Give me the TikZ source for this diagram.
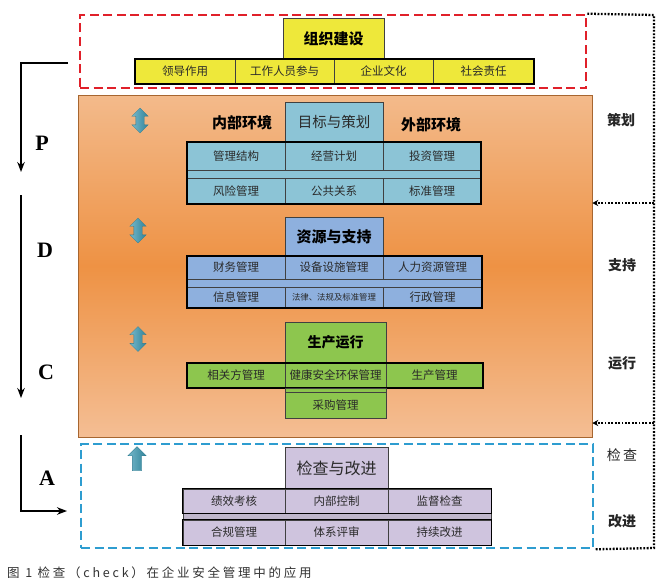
\documentclass[tikz,border=0pt]{standalone}
\usepackage{fontspec}
\setmainfont{Noto Sans CJK SC}
\newfontfamily\cjk{Noto Sans CJK SC}
\newfontfamily\lat{Liberation Serif}
\newfontfamily\capfont[LetterSpace=22]{Noto Sans CJK SC}
\usetikzlibrary{shapes.arrows,arrows.meta}
\definecolor{yel}{HTML}{EEE83A}
\definecolor{cya}{HTML}{8CC4D6}
\definecolor{blu}{HTML}{8EB0DE}
\definecolor{gre}{HTML}{8DC64E}
\definecolor{pur}{HTML}{CFC4DE}
\definecolor{orT}{HTML}{F3BA8B}
\definecolor{orM}{HTML}{EE9244}
\definecolor{orB}{HTML}{F4BE94}
\definecolor{teal1}{HTML}{3A9AB4}
\definecolor{redd}{HTML}{E0202A}
\definecolor{blud}{HTML}{2E9DD0}
\definecolor{txt}{HTML}{2A2A2A}
\tikzset{
  cellbase/.style={draw=black!75, line width=0.7pt, inner sep=0pt, text=txt, font=\cjk\fontsize{11.5}{12}\selectfont},
  ycell/.style={cellbase, fill=yel},
  ccell/.style={cellbase, fill=cya},
  bcell/.style={cellbase, fill=blu},
  gcell/.style={cellbase, fill=gre},
  pcell/.style={cellbase, fill=pur},
  frame/.style={draw=black, line width=1.8pt, inner sep=0pt},
  head/.style={font=\cjk\bfseries\fontsize{15}{16}\selectfont, text=black},
  side/.style={font=\cjk\bfseries\fontsize{14}{15}\selectfont, text=black!85},
  pdca/.style={font=\lat\bfseries\fontsize{22}{24}\selectfont},
  darr/.style={double arrow, left color=teal1!70!white, right color=teal1!85!black, draw=teal1!80!black, line width=0.3pt, rotate=90, minimum height=25pt, inner xsep=0pt, inner ysep=4pt, double arrow head extend=4pt},
  uarr/.style={single arrow, left color=teal1!70!white, right color=teal1!85!black, draw=teal1!80!black, line width=0.3pt, rotate=90, minimum height=24pt, inner xsep=0pt, inner ysep=4.5pt, single arrow head extend=4.5pt},
  dotl/.style={line width=2.3pt, dash pattern=on 1.8pt off 1.6pt, black},
  pline/.style={line width=1.7pt, black, -{Stealth[length=10pt,width=7.5pt]}},
}
\begin{document}
\begin{tikzpicture}[x=1pt,y=-1pt]
\useasboundingbox (0,0) rectangle (671,586);
\fill[white] (0,0) rectangle (671,586);

% orange panel
\node[draw=orM!70!black, line width=0.5pt, top color=orT, bottom color=orB, middle color=orM, minimum width=514pt, minimum height=342pt, inner sep=0pt] (panel) at (335,266) {};

% red dashed org box
\node[draw=redd, line width=2.6pt, dash pattern=on 9pt off 4.5pt, minimum width=506pt, minimum height=73pt, inner sep=0pt] (org) at (333,51.5) {};
% blue dashed check box
\node[draw=blud, line width=2.6pt, dash pattern=on 9pt off 4.5pt, minimum width=512pt, minimum height=104pt, inner sep=0pt] (chk) at (337,496) {};

% yellow
\node[ycell, minimum width=101pt, minimum height=41pt, font=\cjk\bfseries\fontsize{15}{16}\selectfont, text=black] (y0) at (333.5,38.5) {组织建设};
\node[ycell, minimum width=100pt, minimum height=25pt] (y1) at (185,71.5) {领导作用};
\node[ycell, minimum width=99pt, minimum height=25pt] (y2) at (284.5,71.5) {工作人员参与};
\node[ycell, minimum width=99pt, minimum height=25pt] (y3) at (383.5,71.5) {企业文化};
\node[ycell, minimum width=101pt, minimum height=25pt] (y4) at (483.5,71.5) {社会责任};
\node[draw=black, line width=1.4pt, minimum width=399pt, minimum height=25pt, inner sep=0pt] (yf) at (334.5,71.5) {};

% cyan
\node[ccell, minimum width=98pt, minimum height=40pt, font=\cjk\fontsize{14.5}{15}\selectfont] (c0) at (334,122) {目标与策划};
\node[head, anchor=center] (inner) at (242,123) {内部环境};
\node[head, anchor=center] (outer) at (431,125) {外部环境};
\node[ccell, minimum width=294pt, minimum height=8pt] (cb) at (334,174) {};
\node[ccell, minimum width=98pt, minimum height=28pt] (c11) at (236,156) {管理结构};
\node[ccell, minimum width=98pt, minimum height=28pt] (c12) at (334,156) {经营计划};
\node[ccell, minimum width=98pt, minimum height=28pt] (c13) at (432,156) {投资管理};
\node[ccell, minimum width=98pt, minimum height=26pt] (c21) at (236,191) {风险管理};
\node[ccell, minimum width=98pt, minimum height=26pt] (c22) at (334,191) {公共关系};
\node[ccell, minimum width=98pt, minimum height=26pt] (c23) at (432,191) {标准管理};
\node[frame, minimum width=294pt, minimum height=62pt] (cf) at (334,173) {};

% blue
\node[bcell, minimum width=98pt, minimum height=39pt, font=\cjk\bfseries\fontsize{15}{16}\selectfont, text=black] (b0) at (334,236.5) {资源与支持};
\node[bcell, minimum width=295pt, minimum height=8pt] (bb) at (334.5,283) {};
\node[bcell, minimum width=98pt, minimum height=23pt] (b11) at (236,267.5) {财务管理};
\node[bcell, minimum width=98pt, minimum height=23pt] (b12) at (334,267.5) {设备设施管理};
\node[bcell, minimum width=99pt, minimum height=23pt] (b13) at (432.5,267.5) {人力资源管理};
\node[bcell, minimum width=98pt, minimum height=21pt] (b21) at (236,297.5) {信息管理};
\node[bcell, minimum width=98pt, minimum height=21pt, font=\cjk\fontsize{8.4}{9}\selectfont] (b22) at (334,297.5) {法律、法规及标准管理};
\node[bcell, minimum width=99pt, minimum height=21pt] (b23) at (432.5,297.5) {行政管理};
\node[frame, minimum width=295pt, minimum height=52pt] (bf) at (334.5,282) {};

% green
\node[gcell, minimum width=101pt, minimum height=41pt, font=\cjk\bfseries\fontsize{14}{15}\selectfont, text=black] (g0) at (335.5,342.5) {生产运行};
\node[gcell, minimum width=98pt, minimum height=25pt] (g1) at (236,375.5) {相关方管理};
\node[gcell, minimum width=101pt, minimum height=25pt] (g2) at (335.5,375.5) {健康安全环保管理};
\node[gcell, minimum width=97pt, minimum height=25pt] (g3) at (434.5,375.5) {生产管理};
\node[frame, minimum width=296pt, minimum height=25pt] (gf) at (335,375.5) {};
\node[gcell, minimum width=101pt, minimum height=30pt] (g4) at (335.5,403) {};
\node[gcell, minimum width=101pt, minimum height=26pt] (g5) at (335.5,405) {采购管理};

% purple
\node[pcell, minimum width=103pt, minimum height=42pt, font=\cjk\fontsize{16}{17}\selectfont] (p0) at (336.5,468) {检查与改进};
\node[pcell, fill=pur!80!gray, minimum width=308pt, minimum height=7pt] (pb) at (337,516.5) {};
\node[pcell, minimum width=102pt, minimum height=24pt] (p11) at (234,501) {绩效考核};
\node[pcell, minimum width=103pt, minimum height=24pt] (p12) at (336.5,501) {内部控制};
\node[pcell, minimum width=103pt, minimum height=24pt] (p13) at (439.5,501) {监督检查};
\node[pcell, minimum width=102pt, minimum height=25pt] (p21) at (234,532.5) {合规管理};
\node[pcell, minimum width=103pt, minimum height=25pt] (p22) at (336.5,532.5) {体系评审};
\node[pcell, minimum width=103pt, minimum height=25pt] (p23) at (439.5,532.5) {持续改进};
\draw[black, line width=1.6pt] (p11.north west) rectangle (p13.south east);
\draw[black, line width=1.6pt] (p21.north west) rectangle (p23.south east);

% teal arrows
\node[darr] (da1) at (140,120.5) {};
\node[darr] (da2) at (138,230.5) {};
\node[darr] (da3) at (138,339) {};
\node[uarr] (ua) at (137,461) {};

% side labels
\node[side] (s1) at (621,120) {策划};
\node[side] (s2) at (622,265) {支持};
\node[side] (s3) at (622,363) {运行};
\node[font=\cjk\fontsize{14}{15}\selectfont, text=black!85] (s4) at (622,455) {检\,查};
\node[side] (s5) at (622,521) {改进};

% dotted feedback loop
\coordinate (dtop) at (654,15);
\coordinate (dbot) at (654,548);
\draw[dotl] (org.north east) -- (dtop) -- (dbot) -- (chk.south east);
\coordinate (a1) at (654,203);
\coordinate (a2) at (654,423);
\draw[dotl, -{Stealth[length=6pt,width=6pt]}] (a1) -- (a1 -| panel.east);
\draw[dotl, -{Stealth[length=6pt,width=6pt]}] (a2) -- (a2 -| panel.east);

% PDCA
\coordinate (pS) at (68,63);
\coordinate (pC) at (21,63);
\coordinate (pE) at (21,172);
\draw[pline] (pS) -- (pC) -- (pE);
\coordinate (dS) at (21,195);
\coordinate (dE) at (21,398);
\draw[pline] (dS) -- (dE);
\coordinate (aS) at (21,435);
\coordinate (aC) at (21,511);
\coordinate (aE) at (67,511);
\draw[pline] (aS) -- (aC) -- (aE);
\node[pdca] (P) at (42,143) {P};
\node[pdca] (D) at (45,250) {D};
\node[pdca] (C) at (46,372) {C};
\node[pdca] (A) at (47,478) {A};

% caption
\node[anchor=west, font=\capfont\fontsize{12.5}{13}\selectfont, text=black!80, inner sep=0pt] (cap) at (7,573) {图 1 检查（check）在企业安全管理中的应用};
\end{tikzpicture}
\end{document}
